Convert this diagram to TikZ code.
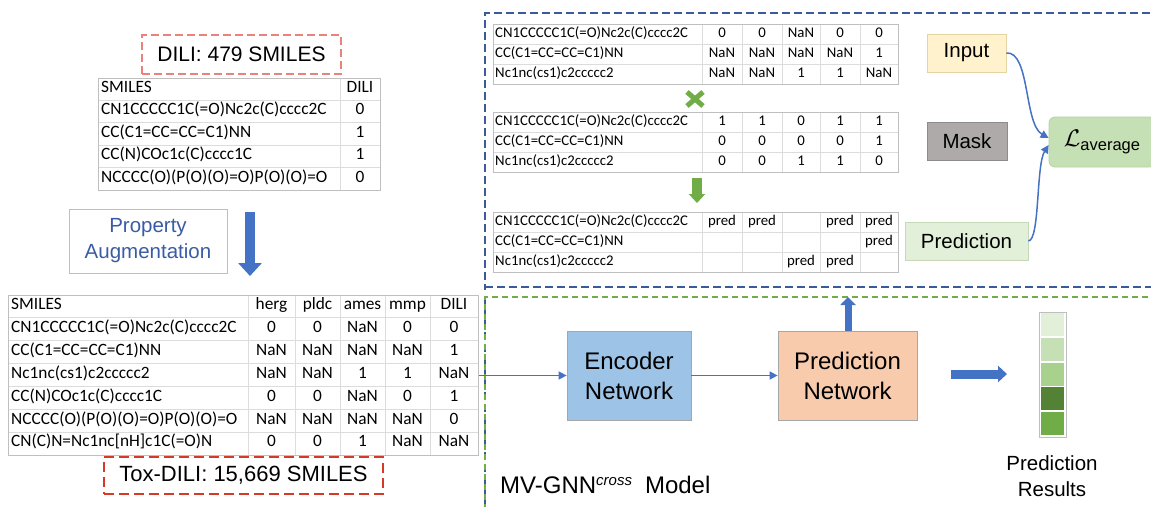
\RequirePackage{fix-cm}
\documentclass[tikz,border=0pt]{standalone}
\usepackage{fontspec}
\setmainfont{Liberation Sans}
\newfontfamily\tabfont{Carlito}
\usetikzlibrary{arrows.meta}
\definecolor{arrblue}{HTML}{4472C4}
\definecolor{dkblue}{HTML}{3A5A9A}
\definecolor{grn}{HTML}{70AD47}
\definecolor{pinkred}{HTML}{E8827C}
\definecolor{toxred}{HTML}{D63A26}
\definecolor{gridc}{HTML}{DCDCDC}
\definecolor{borderc}{HTML}{BFBFBF}
\definecolor{augtext}{HTML}{3A5BA5}
\definecolor{inputfill}{HTML}{FFF2CC}
\definecolor{inputdraw}{HTML}{E6D3A3}
\definecolor{maskfill}{HTML}{AEAAAA}
\definecolor{maskdraw}{HTML}{8C8C8C}
\definecolor{lfill}{HTML}{C5E0B4}
\definecolor{lrdraw}{HTML}{B5D3A2}
\definecolor{predfill}{HTML}{E2F0D9}
\definecolor{predraw}{HTML}{C5D9B8}
\definecolor{encfill}{HTML}{9DC3E6}
\definecolor{pnfill}{HTML}{F8CBAD}
\definecolor{boxgray}{HTML}{A6A6A6}
\definecolor{barA}{HTML}{E2F0D9}
\definecolor{barB}{HTML}{C5E0B4}
\definecolor{barC}{HTML}{A9D18E}
\definecolor{barD}{HTML}{548235}
\definecolor{barE}{HTML}{70AD47}
\tikzset{
  bigcellL/.style={anchor=west,inner sep=0pt,font=\tabfont\fontsize{17.3}{19}\selectfont,text height=0.66em,text depth=0pt},
  bigcellC/.style={bigcellL,anchor=center},
  tcellL/.style={anchor=west,inner sep=0pt,font=\tabfont\fontsize{14.8}{16}\selectfont,text height=0.66em,text depth=0pt},
  tcellC/.style={tcellL,anchor=center},
  gridline/.style={draw=gridc,line width=0.8pt},
  outline/.style={draw=borderc,line width=1pt},
  conn/.style={draw=arrblue,line width=1.5pt,-{Triangle[length=8pt,width=8pt]}},
  flatbox/.style={draw=boxgray,line width=0.8pt,inner sep=0pt,align=center},
}
\newcommand\toptab[3]{%
  \foreach \yy in {1,2} \draw[gridline] (493,#1+\yy*20) -- (898,#1+\yy*20);
  \foreach \xx in {702,742,782,820,860} \draw[gridline] (\xx,#1) -- (\xx,#1+60);
  \draw[outline] (493,#1) rectangle (898,#1+60);
  \foreach [count=\r from 0] \s/\a/\b/\c/\d/\e in {#3}{
    \pgfmathsetmacro\yy{#1+(\r+0.5)*20}
    \node[tcellL] (#2-\r-s) at (495,\yy) {\s};
    \foreach [count=\k] \v/\cx in {\a/722,\b/762,\c/801,\d/840,\e/879}
      \node[tcellC] (#2-\r-\k) at (\cx,\yy) {\v};
  }%
}
\begin{document}
\begin{tikzpicture}[x=1pt,y=-1pt]
\useasboundingbox (0,0) rectangle (1151,506);
\clip (0,0) rectangle (1151,506);

% ---------- dashed frames ----------
\draw[dkblue,line width=2pt,dash pattern=on 8pt off 4pt] (485,1000) -- (485,13) -- (1170,13);
\draw[dkblue,line width=2pt,dash pattern=on 8pt off 4pt] (485,287) -- (1170,287);
\fill[white] (484,290) rectangle (487,296);
\draw[grn,line width=2pt,dash pattern=on 6pt off 4pt] (485,520) -- (485,297) -- (1170,297);

% ---------- DILI small table ----------
\node[draw=pinkred,line width=2pt,dash pattern=on 8pt off 4pt,minimum width=199pt,minimum height=39pt,inner sep=0pt,font=\fontsize{21}{24}\selectfont] (dili) at (241.5,54.5) {DILI: 479 SMILES};
\foreach \yy in {100.4,122.8,145.2,167.6} \draw[gridline] (98,\yy) -- (380,\yy);
\draw[gridline] (340,78) -- (340,190);
\draw[outline] (98,78) rectangle (380,190);
\foreach [count=\r from 0] \s/\a in {SMILES/DILI,{CN1CCCCC1C(=O)Nc2c(C)cccc2C}/0,{CC(C1=CC=CC=C1)NN}/1,{CC(N)COc1c(C)cccc1C}/1,{NCCCC(O)(P(O)(O)=O)P(O)(O)=O}/0}{
  \pgfmathsetmacro\yy{78+(\r+0.5)*22.4}
  \node[bigcellL] (st-\r-s) at (101,\yy) {\s};
  \node[bigcellC] (st-\r-1) at (360,\yy) {\a};
}

% ---------- property augmentation ----------
\node[draw=borderc,line width=0.8pt,minimum width=158pt,minimum height=64pt,inner sep=0pt,align=center,text=augtext,font=\fontsize{20.5}{26}\selectfont] (aug) at (148,241) {Property\\Augmentation};
\coordinate (da1) at (250,212);
\coordinate (da2) at (250,276);
\draw[arrblue,line width=10pt,-{Triangle[length=13pt,width=23pt]}] (da1) -- (da2);

% ---------- big table ----------
\foreach \r in {1,...,6} \draw[gridline] (8,295+\r*22.857) -- (478,295+\r*22.857);
\foreach \xx in {248,295,340,385,430} \draw[gridline] (\xx,295) -- (\xx,455);
\draw[outline] (8,295) rectangle (478,455);
\foreach [count=\r from 0] \s/\a/\b/\c/\d/\e in {SMILES/herg/pldc/ames/mmp/DILI,
  {CN1CCCCC1C(=O)Nc2c(C)cccc2C}/0/0/NaN/0/0,
  {CC(C1=CC=CC=C1)NN}/NaN/NaN/NaN/NaN/1,
  {Nc1nc(cs1)c2ccccc2}/NaN/NaN/1/1/NaN,
  {CC(N)COc1c(C)cccc1C}/0/0/NaN/0/1,
  {NCCCC(O)(P(O)(O)=O)P(O)(O)=O}/NaN/NaN/NaN/NaN/0,
  {CN(C)N=Nc1nc[nH]c1C(=O)N}/0/0/1/NaN/NaN}{
  \pgfmathsetmacro\yy{295+(\r+0.5)*22.857}
  \node[bigcellL] (bt-\r-s) at (11,\yy) {\s};
  \foreach [count=\k] \v/\cx in {\a/271.5,\b/317.5,\c/362.5,\d/407.5,\e/454}
    \node[bigcellC] (bt-\r-\k) at (\cx,\yy) {\v};
}
\node[draw=toxred,line width=2.5pt,dash pattern=on 10pt off 5pt,minimum width=279pt,minimum height=37pt,inner sep=0pt,font=\fontsize{22}{24}\selectfont] (tox) at (243.5,475.5) {Tox-DILI: 15,669 SMILES};
\coordinate (tabout) at (479,375.5);

% ---------- top tables ----------
\toptab{24}{ta}{{CN1CCCCC1C(=O)Nc2c(C)cccc2C}/0/0/NaN/0/0,{CC(C1=CC=CC=C1)NN}/NaN/NaN/NaN/NaN/1,{Nc1nc(cs1)c2ccccc2}/NaN/NaN/1/1/NaN}
\toptab{112}{tb}{{CN1CCCCC1C(=O)Nc2c(C)cccc2C}/1/1/0/1/1,{CC(C1=CC=CC=C1)NN}/0/0/0/0/1,{Nc1nc(cs1)c2ccccc2}/0/0/1/1/0}
\toptab{212}{tc}{{CN1CCCCC1C(=O)Nc2c(C)cccc2C}/pred/pred/{}/pred/pred,{CC(C1=CC=CC=C1)NN}/{}/{}/{}/{}/pred,{Nc1nc(cs1)c2ccccc2}/{}/{}/pred/pred/{}}
\draw[grn,line width=5pt] (687,92) -- (703,106) (703,92) -- (687,106);
\coordinate (ga1) at (697,178);
\coordinate (ga2) at (697,203);
\draw[grn,line width=10pt,-{Triangle[length=9pt,width=16pt]}] (ga1) -- (ga2);

% ---------- right side boxes ----------
\node[flatbox,draw=inputdraw,fill=inputfill,minimum width=79pt,minimum height=38pt,font=\fontsize{20.5}{24}\selectfont] (inp) at (966.5,53) {Input};
\node[flatbox,draw=maskdraw,fill=maskfill,minimum width=80pt,minimum height=38pt,font=\fontsize{20.5}{24}\selectfont] (mask) at (967,141) {Mask};
\node[flatbox,draw=predraw,fill=predfill,minimum width=123pt,minimum height=38pt,font=\fontsize{20.5}{24}\selectfont] (pred) at (966.5,241) {Prediction};
\node[flatbox,draw=lrdraw,fill=lfill,rounded corners=6pt,minimum width=106pt,minimum height=50pt,font=\fontsize{24}{28}\selectfont] (lav) at (1102,142) {$\mathcal{L}$\raisebox{-4pt}{\fontsize{16.5}{18}\selectfont average}};
\draw[conn] (inp.east) .. controls (1030,51) and (1024,124) .. ([yshift=4pt]lav.west);
\draw[conn] (pred.east) .. controls (1040,240) and (1036,165) .. ([yshift=-3pt]lav.west);

% ---------- model ----------
\node[flatbox,fill=encfill,minimum width=124pt,minimum height=89pt,font=\fontsize{24}{30}\selectfont] (enc) at (629,375.5) {Encoder\\Network};
\node[flatbox,fill=pnfill,minimum width=139pt,minimum height=89pt,font=\fontsize{24}{30}\selectfont] (pn) at (847.5,375.5) {Prediction\\Network};
\draw[conn] (tabout) -- (enc.west);
\draw[conn] (enc.east) -- (pn.west);
\coordinate (ua) at (848,297);
\draw[arrblue,line width=7pt,-{Triangle[length=8pt,width=15pt]}] (pn.north -| ua) -- (ua);
\coordinate (ra1) at (951,374);
\coordinate (ra2) at (1007,374);
\draw[arrblue,line width=9pt,-{Triangle[length=9pt,width=16pt]}] (ra1) -- (ra2);
\node[anchor=base west,inner sep=0pt,font=\fontsize{24}{28}\selectfont] (mv) at (500,493) {MV-GNN\raisebox{8pt}{\fontsize{15}{16}\selectfont\itshape cross}\hspace{13pt}Model};

% ---------- prediction results bar ----------
\draw[draw=borderc,line width=1pt,fill=white] (1039,312) rectangle (1066,437);
\foreach [count=\i from 0] \cc in {barA,barB,barC,barD,barE}
  \node[fill=\cc,inner sep=0pt,minimum width=23pt,minimum height=23pt] (bar\i) at (1052.5,324.5+\i*24.8) {};
\node[align=center,inner sep=0pt,font=\fontsize{20.5}{26}\selectfont] (res) at (1052,476) {Prediction\\Results};
\end{tikzpicture}
\end{document}
